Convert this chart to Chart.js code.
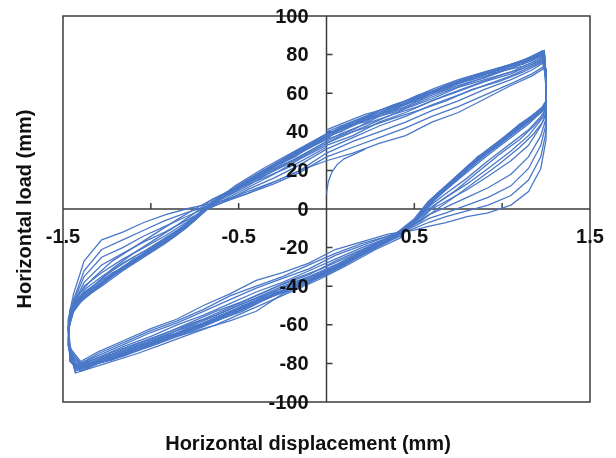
<!DOCTYPE html>
<html>
<head>
<meta charset="utf-8">
<script src="https://cdn.jsdelivr.net/npm/chart.js@4.4.1/dist/chart.umd.min.js"></script>
<style>
  html, body { margin: 0; padding: 0; background: #fff; }
  #wrap { width: 616px; height: 458px; }
</style>
</head>
<body>
<div id="wrap"><canvas id="hysteresisChart"></canvas></div>
<script>
// displacement path of one cycle: upper branch, right unloading, lower branch, left unloading
const displacement = [
  0.00, 0.15, 0.30, 0.45, 0.60, 0.75, 0.90, 1.05, 1.17, 1.24,
  1.25, 1.25, 1.22, 1.15, 1.05, 0.92, 0.80, 0.68, 0.58, 0.50,
  0.35, 0.20, 0.05, -0.10, -0.25, -0.40, -0.55, -0.70, -0.85, -1.00, -1.15, -1.30, -1.40,
  -1.46, -1.47, -1.44, -1.38, -1.28, -1.16, -1.04, -0.92, -0.80, -0.70, -0.60, -0.45, -0.30, -0.15, 0.00
];
// same path sampled at other readings (later cycles)
const displacementB = [
  0.00, 0.08, 0.22, 0.38, 0.52, 0.68, 0.83, 0.98, 1.12, 1.23,
  1.25, 1.25, 1.23, 1.18, 1.10, 0.98, 0.86, 0.74, 0.63, 0.54,
  0.42, 0.28, 0.12, -0.03, -0.18, -0.33, -0.48, -0.63, -0.78, -0.93, -1.08, -1.22, -1.36,
  -1.43, -1.47, -1.46, -1.41, -1.33, -1.22, -1.10, -0.98, -0.86, -0.75, -0.65, -0.52, -0.36, -0.18, 0.00
];

// load for each cycle (early cycles first)
const cycle1 = [
  25, 29, 34, 38, 45, 50, 57, 64, 69, 73,
  62, 36, 21, 9, 2, -2, -4, -7, -9, -11,
  -13, -17, -21, -28, -33, -37, -44, -50, -57, -62, -68, -74, -79,
  -72, -57, -44, -27, -16, -12, -7, -3, 0, 2, 4, 9, 14, 20, 25
];
const cycle2 = [
  27, 32, 37, 42, 48, 53, 59, 65, 70, 74,
  64, 40, 27, 15, 7, 2, -1, -4, -7, -10,
  -14, -18, -23, -29, -35, -40, -45, -52, -58, -63, -69, -75, -80,
  -73, -58, -47, -32, -21, -16, -11, -6, -2, 1, 4, 8, 13, 19, 27
];
const cycle3 = [
  29, 35, 40, 45, 51, 56, 62, 67, 72, 76,
  65, 44, 33, 21, 12, 6, 2, -2, -5, -9,
  -14, -19, -24, -31, -36, -41, -47, -53, -59, -64, -70, -76, -80,
  -74, -59, -48, -35, -25, -20, -14, -9, -4, 0, 3, 8, 14, 20, 29
];
const cycle4 = [
  31, 37, 43, 48, 54, 59, 64, 69, 74, 77,
  66, 47, 38, 27, 18, 11, 6, 1, -3, -8,
  -15, -20, -26, -32, -38, -43, -49, -55, -60, -66, -71, -77, -81,
  -75, -60, -49, -38, -29, -23, -17, -12, -6, -1, 3, 10, 16, 23, 31
];
const cycle5 = [
  33, 38, 45, 50, 56, 61, 66, 70, 75, 78,
  66, 49, 43, 33, 25, 17, 10, 4, -1, -7,
  -15, -21, -27, -34, -39, -45, -51, -57, -62, -67, -72, -77, -81,
  -76, -61, -50, -40, -33, -26, -20, -14, -7, -1, 4, 11, 18, 26, 33
];
const cycle6 = [
  34, 40, 46, 52, 57, 63, 67, 71, 76, 79,
  66, 50, 46, 38, 30, 21, 13, 6, 0, -7,
  -15, -22, -29, -35, -40, -46, -52, -58, -63, -68, -73, -78, -82,
  -77, -61, -51, -42, -35, -28, -22, -15, -8, -1, 5, 12, 20, 27, 35
];
const cycle7 = [
  36, 41, 48, 53, 59, 64, 68, 73, 77, 80,
  66, 52, 48, 41, 34, 25, 16, 8, 1, -7,
  -16, -22, -30, -36, -41, -47, -53, -59, -64, -69, -74, -78, -82,
  -77, -61, -52, -43, -37, -30, -23, -16, -9, -1, 6, 13, 21, 29, 36
];
const cycle8 = [
  37, 43, 49, 54, 60, 65, 69, 73, 77, 80,
  67, 53, 50, 44, 37, 28, 19, 10, 2, -6,
  -16, -23, -31, -37, -42, -48, -54, -60, -65, -70, -75, -79, -83,
  -78, -62, -52, -44, -38, -31, -24, -17, -9, -1, 6, 14, 22, 29, 37
];
const cycle9 = [
  38, 44, 50, 55, 60, 66, 70, 74, 78, 81,
  66, 53, 51, 46, 39, 30, 21, 11, 3, -6,
  -17, -24, -32, -38, -43, -49, -55, -61, -66, -71, -76, -80, -84,
  -79, -63, -53, -45, -39, -31, -24, -17, -9, -1, 6, 14, 22, 30, 38
];
const cycle10 = [
  39, 45, 51, 56, 62, 67, 71, 75, 79, 82,
  67, 54, 52, 47, 40, 31, 22, 12, 4, -5,
  -16, -23, -31, -37, -43, -48, -54, -60, -65, -70, -76, -80, -83,
  -78, -62, -53, -46, -40, -32, -25, -18, -10, -2, 6, 15, 23, 31, 39
];
const cycle11 = [
  39, 44, 51, 56, 61, 66, 70, 75, 78, 81,
  65, 53, 51, 46, 39, 30, 21, 11, 3, -6,
  -16, -23, -30, -37, -42, -48, -53, -59, -65, -70, -75, -79, -82,
  -78, -62, -52, -45, -39, -31, -24, -17, -9, -1, 6, 14, 22, 30, 38
];
const cycle12 = [
  38, 45, 50, 55, 61, 65, 70, 74, 78, 82,
  66, 52, 50, 45, 38, 29, 20, 10, 2, -7,
  -17, -24, -31, -38, -44, -53, -58, -62, -66, -71, -75, -80, -84,
  -79, -61, -51, -44, -38, -30, -23, -16, -8, 0, 7, 15, 23, 31, 38
];

// later cycles, read along displacementB
const cycle13 = [
  37, 43, 45, 53, 56, 64, 67, 73, 75, 81,
  72, 56, 53, 47, 44, 33, 27, 15, 8, -3,
  -12, -20, -26, -35, -39, -46, -50, -58, -61, -68, -71, -78, -81,
  -84, -70, -54, -49, -41, -35, -26, -21, -12, -6, 4, 9, 20, 27, 38
];
const cycle14 = [
  39, 40, 47, 51, 58, 62, 69, 71, 77, 79,
  70, 54, 51, 49, 42, 35, 25, 17, 6, -2,
  -14, -18, -28, -33, -41, -44, -52, -56, -63, -66, -73, -76, -82,
  -82, -69, -56, -47, -43, -33, -28, -19, -14, -4, 2, 11, 18, 29, 36
];
const cycle15 = [
  36, 42, 46, 50, 55, 61, 66, 71, 74, 78,
  71, 55, 52, 47, 42, 33, 25, 15, 6, -3,
  -13, -20, -27, -34, -40, -46, -52, -58, -63, -68, -73, -78, -81,
  -83, -68, -53, -46, -40, -32, -25, -19, -12, -4, 4, 10, 18, 26, 35
];
const cycle16 = [
  40, 43, 48, 54, 58, 64, 69, 73, 77, 82,
  71, 56, 52, 48, 43, 34, 26, 16, 7, -2,
  -14, -20, -28, -35, -41, -46, -53, -58, -63, -68, -73, -78, -81,
  -84, -71, -55, -48, -42, -34, -27, -20, -13, -5, 3, 11, 20, 29, 38
];
const cycle17 = [
  35, 39, 44, 49, 53, 59, 64, 69, 73, 77,
  69, 52, 48, 43, 36, 28, 19, 10, 3, -5,
  -13, -19, -26, -33, -38, -44, -49, -55, -60, -66, -71, -76, -80,
  -82, -68, -54, -47, -40, -31, -23, -16, -9, -2, 5, 11, 17, 25, 34
];
const cycle18 = [
  38, 41, 46, 52, 57, 63, 68, 72, 76, 80,
  70, 55, 52, 48, 43, 34, 26, 16, 7, -2,
  -13, -19, -27, -34, -40, -45, -51, -57, -62, -67, -72, -77, -80,
  -83, -70, -55, -48, -42, -34, -27, -20, -13, -5, 3, 10, 19, 28, 37
];
const cycle19 = [
  34, 38, 42, 47, 51, 56, 62, 66, 71, 76,
  68, 50, 45, 39, 32, 23, 15, 7, 0, -6,
  -12, -18, -25, -31, -36, -42, -48, -53, -59, -65, -70, -75, -79,
  -81, -67, -52, -44, -36, -27, -20, -13, -6, 0, 5, 10, 16, 23, 32
];
const cycle20 = [
  41, 44, 49, 53, 59, 63, 69, 72, 77, 81,
  72, 56, 53, 49, 44, 35, 27, 17, 8, -1,
  -15, -21, -29, -36, -42, -48, -54, -60, -65, -70, -75, -79, -83,
  -85, -71, -56, -49, -43, -35, -28, -21, -14, -6, 3, 12, 21, 30, 39
];

// first loading from the origin
const initialDisp = [0.00, 0.01, 0.03, 0.06, 0.10, 0.15, 0.22];
const initialLoad = [8, 14, 19, 23, 26, 28, 31];

// axis ticks
const xLabelValues = [-1.5, -0.5, 0.5, 1.5];
const xMarkValues = [-1.0, -0.5, 0.5, 1.0];
const yLabelValues = [100, 80, 60, 40, 20, 0, -20, -40, -60, -80, -100];
const yMarkValues = [80, 60, 40, 20, -20, -40, -60, -80];

const cyclesA = [cycle1, cycle2, cycle3, cycle4, cycle5, cycle6,
                 cycle7, cycle8, cycle9, cycle10, cycle11, cycle12];
const cyclesB = [cycle13, cycle14, cycle15, cycle16, cycle17, cycle18, cycle19, cycle20];

const lineColor = "#4a78c8";

function toPoints(xs, ys) {
  return xs.map((x, i) => ({ x: x, y: ys[i] }));
}

function loopDataset(xs, ys) {
  return {
    data: toPoints(xs, ys),
    showLine: true,
    borderColor: lineColor,
    borderWidth: 1.3,
    pointRadius: 0,
    tension: 0
  };
}

let datasets = [];
cyclesA.forEach(load => datasets.push(loopDataset(displacement, load)));
cyclesB.forEach(load => datasets.push(loopDataset(displacementB, load)));
datasets.push(loopDataset(initialDisp, initialLoad));

// box, crossing axes at zero, tick marks and all the text
const crossAxes = {
  id: "crossAxes",
  beforeDatasetsDraw(chart) {
    const { ctx, chartArea: a, scales: { x, y } } = chart;
    const x0 = x.getPixelForValue(0);
    const y0 = y.getPixelForValue(0);
    ctx.save();
    ctx.strokeStyle = "#3c3c3c";
    ctx.lineWidth = 1.5;
    ctx.strokeRect(a.left, a.top, a.right - a.left, a.bottom - a.top);
    ctx.beginPath();
    ctx.moveTo(x0, a.top); ctx.lineTo(x0, a.bottom);
    ctx.moveTo(a.left, y0); ctx.lineTo(a.right, y0);
    xMarkValues.forEach(v => {
      let px = x.getPixelForValue(v);
      ctx.moveTo(px, y0); ctx.lineTo(px, y0 - 6);
    });
    yMarkValues.forEach(v => {
      let py = y.getPixelForValue(v);
      ctx.moveTo(x0, py); ctx.lineTo(x0 + 6, py);
    });
    ctx.stroke();
    ctx.restore();
  },
  afterDatasetsDraw(chart) {
    const { ctx, chartArea: a, scales: { x, y } } = chart;
    const x0 = x.getPixelForValue(0);
    const y0 = y.getPixelForValue(0);
    ctx.save();
    ctx.fillStyle = "#111";
    ctx.font = "bold 20px 'Liberation Sans', Arial, sans-serif";
    ctx.textBaseline = "middle";

    ctx.textAlign = "center";
    xLabelValues.forEach(v => {
      ctx.fillText(String(v), x.getPixelForValue(v), y0 + 28);
    });

    ctx.textAlign = "right";
    yLabelValues.forEach(v => {
      ctx.fillText(String(v), x0 - 18, y.getPixelForValue(v) + 1);
    });

    // axis titles
    ctx.textAlign = "center";
    ctx.fillText("Horizontal displacement (mm)", 308, 444);
    ctx.translate(25, (a.top + a.bottom) / 2);
    ctx.rotate(-Math.PI / 2);
    ctx.fillText("Horizontal load (mm)", 0, 0);
    ctx.restore();
  }
};

new Chart(document.getElementById("hysteresisChart").getContext("2d"), {
  type: "scatter",
  data: { datasets: datasets },
  options: {
    responsive: true,
    maintainAspectRatio: false,
    animation: false,
    layout: { padding: { left: 63, top: 16, right: 26, bottom: 56 } },
    scales: {
      x: { type: "linear", min: -1.5, max: 1.5, display: false },
      y: { type: "linear", min: -100, max: 100, display: false }
    },
    plugins: {
      legend: { display: false },
      tooltip: { enabled: false }
    }
  },
  plugins: [crossAxes]
});
</script>
</body>
</html>
